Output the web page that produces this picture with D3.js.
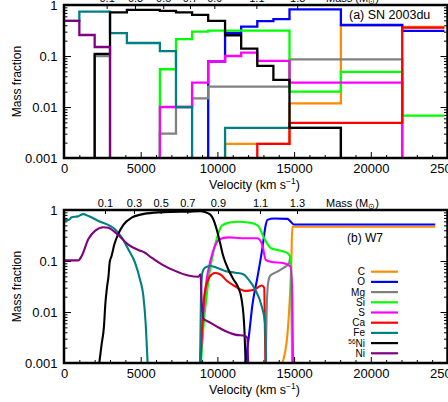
<!DOCTYPE html>
<html>
<head>
<meta charset="utf-8">
<script src="https://cdn.jsdelivr.net/npm/d3@7"></script>
<style>
body { margin: 0; background: #fff; }
text { font-family: 'Liberation Sans', Arial, sans-serif; fill: #000; }
</style>
</head>
<body>
<div id="container"></div>
<script>
var elements = ['C', 'O', 'Mg', 'Si', 'S', 'Ca', 'Fe', '56Ni', 'Ni'];
var colors = ['#ff8c00', '#0000ff', '#808080', '#00ff00', '#ff00ff', '#ff0000', '#008080', '#000000', '#800080'];

var xTicks = [0, 5000, 10000, 15000, 20000, 25000];
var yTicks = [0.001, 0.01, 0.1, 1];
var yTickLabels = ['0.001', '0.01', '0.1', '1'];
var massLabels = ['0.1', '0.3', '0.5', '0.7', '0.9', '1.1', '1.3'];
var massVelA = [2780, 4630, 6470, 8210, 9800, 12540, 15200];
var massVelB = [2670, 4560, 6300, 8040, 10040, 12780, 15190];

// (a) SN 2003du : shell edges (km/s), one value per shell, null = not present
var shellEdges = [0, 1000, 2000, 3000, 4100, 6250, 7300, 8350, 9400, 10500, 11550, 12600, 13650, 14700, 18050, 22050, 24800];
var stepC  = [null, null, null, null, null, null, null, null, null, 0.0019, 0.0019, 0.0019, 0.0019, 0.0118, 0.40, 0.37];
var stepO  = [null, null, null, null, null, null, null, null, 0.078, 0.285, 0.376, 0.485, 0.53, 0.82, 0.405, 0.31];
var stepMg = [null, null, 0.10, null, null, 0.003, 0.01, 0.0148, 0.025, 0.025, 0.025, 0.025, 0.025, 0.086, 0.086, null];
var stepSi = [null, null, null, null, null, 0.055, 0.215, 0.30, 0.315, 0.315, 0.315, 0.315, 0.315, 0.02, 0.049, 0.0068];
var stepS  = [null, null, null, null, null, 0.01, 0.01, 0.03, 0.078, 0.10, 0.116, 0.08, 0.08, 0.03, 0.03, null];
var stepCa = [null, null, null, null, null, null, null, null, null, null, null, 0.0019, 0.0019, 0.0049, 0.0049, 0.36];
var stepFe = [0.49, 0.74, 0.74, 0.28, 0.18, 0.125, 0.0099, null, null, 0.0039, 0.0039, 0.0039, 0.0039, 0.0039, null, null];
var stepNi56 = [null, null, 0.11, 0.72, 0.80, 0.77, 0.72, 0.64, 0.49, 0.255, 0.14, 0.064, 0.034, 0.0039, null, null];
var stepNi = [0.49, 0.258, 0.15, null, null, null, null, null, null, null, null, null, null, null, null, null];

// (b) W7 : [velocity, mass fraction]
var w7C = [[14230, 0.001], [14560, 0.0035], [14730, 0.0216], [14820, 0.097], [14880, 0.47], [15000, 0.47], [24200, 0.47]];
var w7O = [[11820, 0.001], [12060, 0.0035], [12280, 0.0137], [12600, 0.046], [12930, 0.177], [13150, 0.51], [13260, 0.64],
	[13690, 0.68], [14560, 0.67], [14780, 0.59], [14990, 0.52], [24200, 0.52]];
var w7Mg = [[13150, 0.001], [13210, 0.010], [13300, 0.036], [13450, 0.052], [13910, 0.062], [14340, 0.074], [14670, 0.09],
	[14760, 0.118], [14830, 0.02], [14870, 0.001]];
var w7Si = [[8930, 0.001], [9080, 0.0046], [9300, 0.021], [9520, 0.069], [9730, 0.146], [9950, 0.27], [10280, 0.49],
	[10710, 0.56], [11360, 0.59], [12010, 0.57], [12450, 0.53], [12700, 0.47], [13000, 0.30], [13470, 0.18],
	[14190, 0.157], [14620, 0.14], [14780, 0.11], [14840, 0.021], [14880, 0.001]];
var w7S = [[8900, 0.001], [9080, 0.0098], [9300, 0.044], [9520, 0.093], [9840, 0.197], [10170, 0.27], [10710, 0.29],
	[11580, 0.28], [12600, 0.28], [12930, 0.206], [13150, 0.105], [13470, 0.097], [14340, 0.09], [14780, 0.077],
	[14880, 0.02], [14930, 0.001]];
var w7Ca = [[8880, 0.001], [9020, 0.0062], [9150, 0.021], [9410, 0.044], [9650, 0.055], [9840, 0.058], [10170, 0.055],
	[10610, 0.041], [11150, 0.032], [11470, 0.028], [11800, 0.026], [12340, 0.027], [12900, 0.033], [13050, 0.03],
	[13100, 0.004], [13130, 0.001]];
var w7Fe = [[0, 0.64], [300, 0.64], [500, 0.72], [900, 0.75], [1250, 0.83], [1600, 0.76], [2240, 0.61], [3000, 0.49],
	[3320, 0.42], [3760, 0.29], [4190, 0.17], [4630, 0.093], [4950, 0.044], [5170, 0.021], [5320, 0.0062], [5450, 0.001],
	[7000, null],
	[8870, 0.001], [8930, 0.021], [9020, 0.059], [9190, 0.074], [9520, 0.080], [9950, 0.074], [10500, 0.064],
	[11150, 0.059], [11690, 0.055], [12010, 0.044], [12450, 0.028], [12890, 0.013], [13100, 0.0062], [13170, 0.001]];
var w7Ni56 = [[2300, 0.001], [2450, 0.0023], [2600, 0.005], [2700, 0.015], [2800, 0.03], [2900, 0.05], [2980, 0.095],
	[3100, 0.125], [3280, 0.21], [3540, 0.34], [3870, 0.51], [4410, 0.71], [5060, 0.82], [5930, 0.89], [7000, 0.92],
	[8100, 0.93], [8900, 0.95], [9190, 0.91], [9520, 0.82], [9730, 0.66], [9950, 0.42], [10170, 0.23], [10380, 0.125],
	[10710, 0.069], [11040, 0.044], [11360, 0.030], [11580, 0.0176], [11760, 0.0046], [11840, 0.001]];
var w7Ni = [[0, 0.103], [935, 0.103], [1150, 0.125], [1590, 0.27], [2020, 0.39], [2570, 0.46], [2890, 0.45], [3220, 0.39],
	[3650, 0.30], [4190, 0.21], [4850, 0.164], [5280, 0.145], [5710, 0.116], [6370, 0.086], [7240, 0.064], [8100, 0.052],
	[8760, 0.049], [8900, 0.055], [8960, 0.02], [9080, 0.0075], [9520, 0.0062], [10280, 0.0046], [11150, 0.0036],
	[11800, 0.0034], [11950, 0.0031], [12000, 0.001]];

var stepsA = [stepC, stepO, stepMg, stepSi, stepS, stepCa, stepFe, stepNi56, stepNi];
var curvesB = [w7C, w7O, w7Mg, w7Si, w7S, w7Ca, w7Fe, w7Ni56, w7Ni];

var W = 448, H = 402;
var left = 64, right = 447.5;
var floorVal = 1e-4;

var svg = d3.select('#container').append('svg')
	.attr('width', W)
	.attr('height', H);

var x = d3.scaleLinear().domain([0, 25000]).range([left, right]);

draw();

function minorLog() {
	var m = [];
	[0.001, 0.01, 0.1].forEach(function(d) {
		for (var k = 2; k < 10; k++) m.push(d * k);
	});
	return m;
}

function panel(top, bottom, massVel, id) {
	var y = d3.scaleLog().domain([0.001, 1]).range([bottom, top]);
	var g = svg.append('g');

	g.append('clipPath').attr('id', 'clip' + id)
		.append('rect')
		.attr('x', left).attr('y', top)
		.attr('width', right - left).attr('height', bottom - top);

	var xMinor = d3.range(0, 25001, 1000).filter(function(d) { return d % 5000 !== 0; });

	g.append('g')
		.attr('transform', 'translate(0,' + bottom + ')')
		.call(d3.axisBottom(x).tickValues(xTicks).tickSize(-6).tickPadding(6).tickFormat(d3.format('d')))
		.call(function(a) { a.select('.domain').remove(); })
		.attr('font-size', 13).attr('font-family', null);
	g.append('g')
		.attr('transform', 'translate(0,' + bottom + ')')
		.call(d3.axisBottom(x).tickValues(xMinor).tickSize(-3).tickFormat(''))
		.call(function(a) { a.select('.domain').remove(); });

	g.append('g')
		.attr('transform', 'translate(' + left + ',0)')
		.call(d3.axisLeft(y).tickValues(yTicks).tickSize(-7).tickPadding(6.5)
			.tickFormat(function(d, i) { return yTickLabels[i]; }))
		.call(function(a) { a.select('.domain').remove(); })
		.attr('font-size', 13).attr('font-family', null);
	g.append('g')
		.attr('transform', 'translate(' + left + ',0)')
		.call(d3.axisLeft(y).tickValues(minorLog()).tickSize(-3.5).tickFormat(''))
		.call(function(a) { a.select('.domain').remove(); });
	g.append('g')
		.attr('transform', 'translate(' + right + ',0)')
		.call(d3.axisRight(y).tickValues(yTicks).tickSize(-7).tickFormat(''))
		.call(function(a) { a.select('.domain').remove(); });
	g.append('g')
		.attr('transform', 'translate(' + right + ',0)')
		.call(d3.axisRight(y).tickValues(minorLog()).tickSize(-3.5).tickFormat(''))
		.call(function(a) { a.select('.domain').remove(); });

	g.append('g')
		.attr('transform', 'translate(0,' + top + ')')
		.call(d3.axisTop(x).tickValues(massVel).tickSize(-4).tickPadding(3.3)
			.tickFormat(function(d, i) { return massLabels[i]; }))
		.call(function(a) { a.select('.domain').remove(); })
		.attr('font-size', 11).attr('font-family', null);

	var ml = g.append('text')
		.attr('x', 326)
		.attr('y', top - 3.3)
		.style('font-size', '11px')
		.text('Mass (M');
	ml.append('tspan').attr('font-size', '8px').attr('dy', 2).text('\u2299');
	ml.append('tspan').attr('dy', -2).text(')');

	g.append('text')
		.attr('transform', 'translate(20.5,' + ((top + bottom) / 2) + ') rotate(-90)')
		.attr('text-anchor', 'middle')
		.style('font-size', '12px')
		.text('Mass fraction');

	var xl = g.append('text')
		.attr('x', 209)
		.attr('y', bottom + 30.5)
		.style('font-size', '12.5px')
		.text('Velocity (km s');
	xl.append('tspan').attr('font-size', '8.5px').attr('dy', -5).text('\u22121');
	xl.append('tspan').attr('dy', 5).text(')');

	return { g: g, y: y };
}

function draw() {

	// (a) SN 2003du
	var pa = panel(5, 158, massVelA, 'a');
	var stepLine = d3.line()
		.x(function(d) { return x(d[0]); })
		.y(function(d) { return pa.y(d[1]); })
		.curve(d3.curveStepAfter);

	stepsA.forEach(function(vals, k) {
		var pts = vals.map(function(v, i) { return [shellEdges[i], v == null ? floorVal : v]; });
		pts.push([shellEdges[shellEdges.length - 1], pts[pts.length - 1][1]]);
		pa.g.append('path')
			.datum(pts)
			.attr('clip-path', 'url(#clipa)')
			.attr('d', stepLine)
			.style('fill', 'none')
			.attr('stroke', colors[k])
			.attr('stroke-width', 2.3);
	});

	pa.g.append('rect')
		.attr('x', left).attr('y', 5)
		.attr('width', right - left).attr('height', 153)
		.style('fill', 'none')
		.attr('stroke', '#000')
		.attr('stroke-width', 2.5);

	pa.g.append('text')
		.attr('x', 349).attr('y', 19)
		.style('font-size', '12.5px')
		.text('(a) SN 2003du');

	// (b) W7
	var pb = panel(210, 363, massVelB, 'b');
	var curve = d3.line()
		.defined(function(d) { return d[1] != null; })
		.x(function(d) { return x(d[0]); })
		.y(function(d) { return pb.y(d[1]); })
		.curve(d3.curveMonotoneX);

	curvesB.forEach(function(pts, k) {
		pb.g.append('path')
			.datum(pts)
			.attr('clip-path', 'url(#clipb)')
			.attr('d', curve)
			.style('fill', 'none')
			.attr('stroke', colors[k])
			.attr('stroke-width', 2.1);
	});

	pb.g.append('rect')
		.attr('x', left).attr('y', 210)
		.attr('width', right - left).attr('height', 153)
		.style('fill', 'none')
		.attr('stroke', '#000')
		.attr('stroke-width', 2.5);

	pb.g.append('text')
		.attr('x', 347).attr('y', 241.5)
		.style('font-size', '12px')
		.text('(b) W7');

	var legend = pb.g.append('g');
	elements.forEach(function(name, k) {
		var ly = 271.7 + k * 10.2;
		var t = legend.append('text')
			.attr('x', 365).attr('y', ly + 3.5)
			.attr('text-anchor', 'end')
			.style('font-size', '10px');
		if (name === '56Ni') {
			t.append('tspan').attr('font-size', '6.5px').attr('dy', -3).text('56');
			t.append('tspan').attr('dy', 3).text('Ni');
		} else {
			t.text(name);
		}
		legend.append('line')
			.attr('x1', 371).attr('x2', 398)
			.attr('y1', ly).attr('y2', ly)
			.attr('stroke', colors[k])
			.attr('stroke-width', 2.2);
	});
}
</script>
</body>
</html>
